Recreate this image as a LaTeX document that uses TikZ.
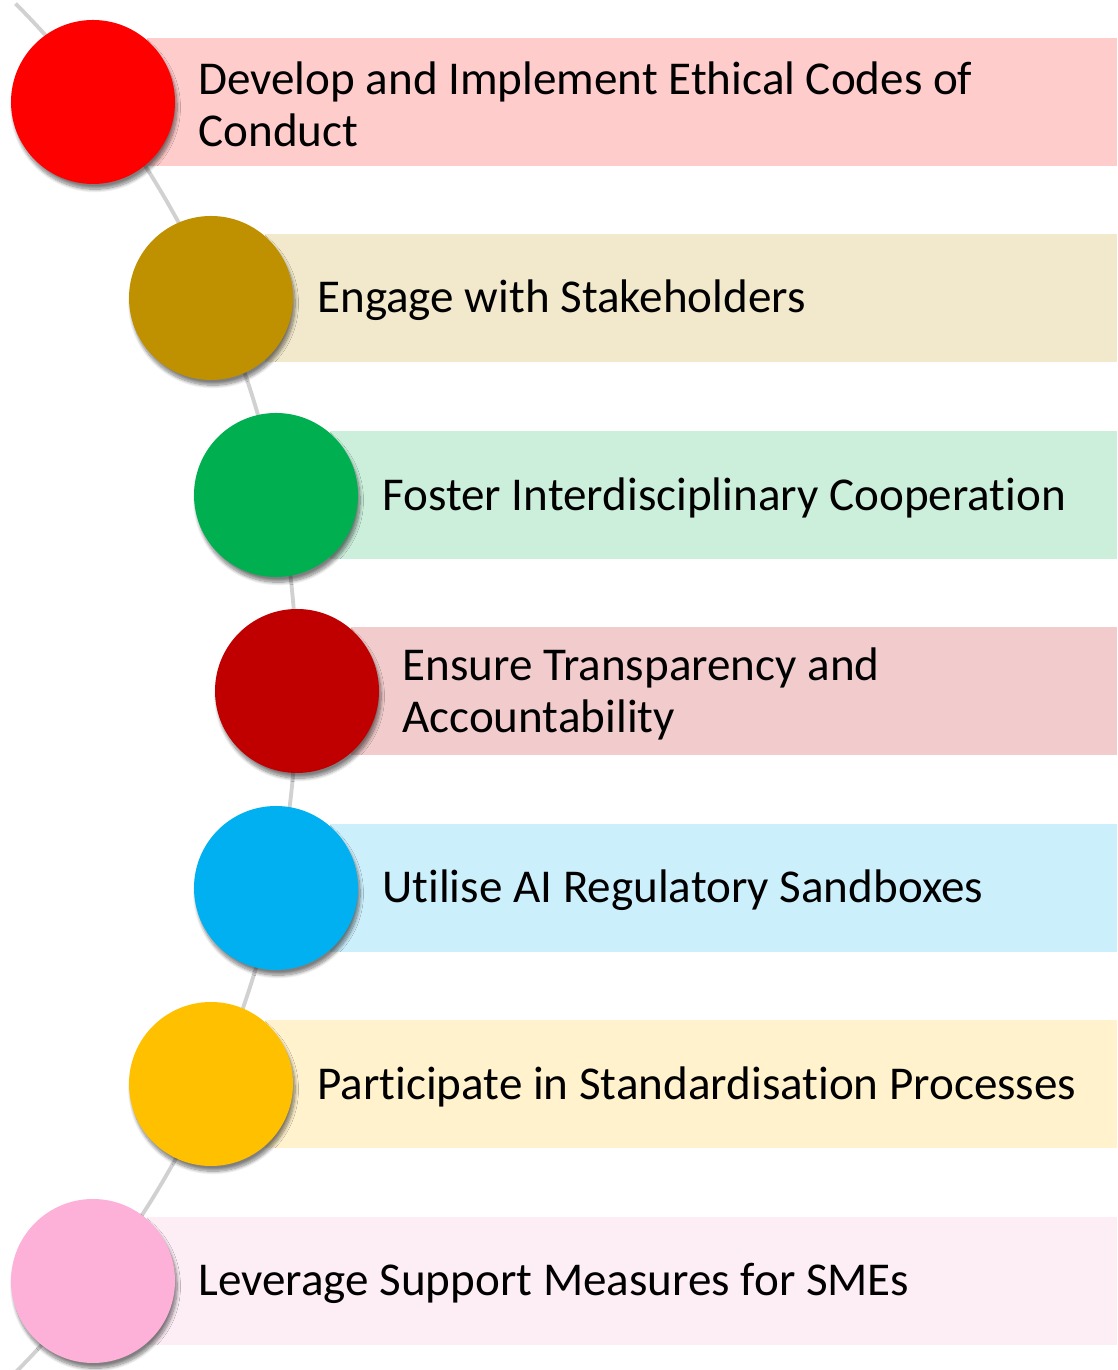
\documentclass[tikz,border=0pt]{standalone}
\usepackage{fontspec}
\setmainfont[Ligatures={NoCommon}]{Carlito}
\usetikzlibrary{shadows.blur}

\definecolor{dotred}{HTML}{FF0000}     \definecolor{barred}{HTML}{FFCCCC}
\definecolor{dotgold}{HTML}{BF9000}    \definecolor{bargold}{HTML}{F2E9CC}
\definecolor{dotgreen}{HTML}{00B050}   \definecolor{bargreen}{HTML}{CCEFDC}
\definecolor{dotdarkred}{HTML}{C00000} \definecolor{bardarkred}{HTML}{F2CCCC}
\definecolor{dotcyan}{HTML}{00B0F0}    \definecolor{barcyan}{HTML}{CCEFFC}
\definecolor{dotamber}{HTML}{FFC000}   \definecolor{baramber}{HTML}{FFF2CC}
\definecolor{dotpink}{HTML}{FDB0D8}    \definecolor{barpink}{HTML}{FDEEF5}

\begin{document}
\begin{tikzpicture}[x=0.2mm, y=0.2mm,
  dot/.style={circle, minimum size=32.8mm, inner sep=0pt,
    blur shadow={shadow xshift=1.2pt, shadow yshift=-3pt, shadow blur steps=10, shadow opacity=50}},
  itemtext/.style={anchor=west, align=left, inner sep=0pt, text=black, yshift=-0.5mm,
    font=\fontsize{26.8}{29.6}\selectfont},
  spine/.style={line width=2.2pt, black!18},
]
\useasboundingbox (0,0) rectangle (1117,1370);

%% ============ CURVED SPINE ============
\draw[spine] (-676,682) ++(44.7:973) arc[start angle=44.7, end angle=-44.7, radius=973];

%% ============ BARS ============
\fill[barred]     (147,1204) rectangle (1117,1332);
\fill[bargold]    (265,1008) rectangle (1117,1136);
\fill[bargreen]   (330,811)  rectangle (1117,939);
\fill[bardarkred] (351,615)  rectangle (1117,743);
\fill[barcyan]    (330,418)  rectangle (1117,546);
\fill[baramber]   (265,222)  rectangle (1117,350);
\fill[barpink]    (147,25)   rectangle (1117,153);

%% ============ DOTS ============
\node[dot, fill=dotred]     (d1) at (93,1268) {};
\node[dot, fill=dotgold]    (d2) at (211,1072) {};
\node[dot, fill=dotgreen]   (d3) at (276,875)  {};
\node[dot, fill=dotdarkred] (d4) at (297,679)  {};
\node[dot, fill=dotcyan]    (d5) at (276,482)  {};
\node[dot, fill=dotamber]   (d6) at (211,286)  {};
\node[dot, fill=dotpink]    (d7) at (93,89)    {};

%% ============ TEXTS ============
\node[itemtext] (t1) at (198,1268) {Develop and Implement Ethical Codes of\\Conduct};
\node[itemtext] (t2) at (317,1072) {Engage with Stakeholders};
\node[itemtext] (t3) at (382,875)  {Foster Interdisciplinary Cooperation};
\node[itemtext] (t4) at (402,679)  {Ensure Transparency and\\Accountability};
\node[itemtext] (t5) at (382,482)  {Utilise AI Regulatory Sandboxes};
\node[itemtext] (t6) at (317,286)  {Participate in Standardisation Processes};
\node[itemtext] (t7) at (198,89)   {Leverage Support Measures for SMEs};

\end{tikzpicture}
\end{document}
